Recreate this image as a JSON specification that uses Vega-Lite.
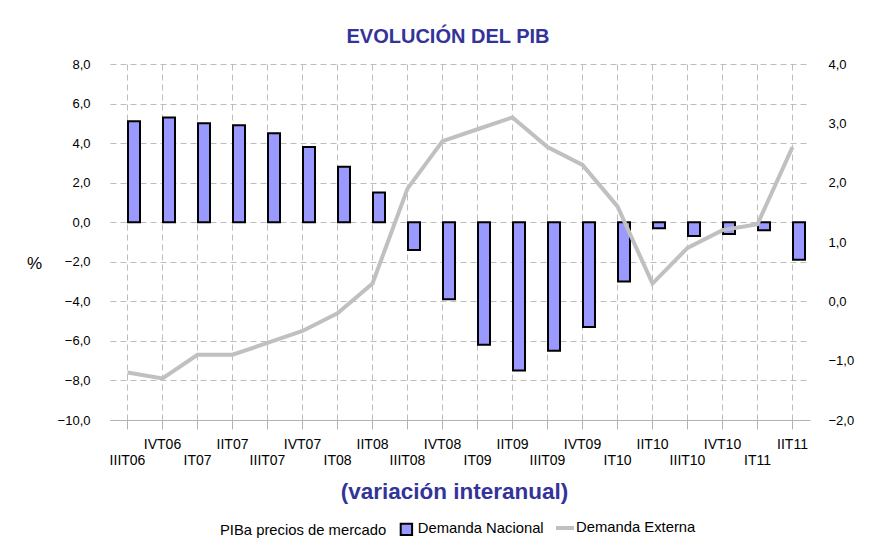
{
  "$schema": "https://vega.github.io/schema/vega-lite/v6.json",
  "autosize": "none",
  "width": 700,
  "height": 356,
  "padding": {"left": 110, "top": 64, "right": 67, "bottom": 129},
  "background": "white",
  "title": {
    "text": "EVOLUCIÓN DEL PIB",
    "fontSize": 20,
    "fontWeight": "bold",
    "color": "#333399",
    "anchor": "middle",
    "dx": -12,
    "offset": 11
  },
  "data": {
    "values": [
      {"t": "IIIT06", "dn": 5.1, "de": -1.2},
      {"t": "IVT06", "dn": 5.3, "de": -1.3},
      {"t": "IT07", "dn": 5.0, "de": -0.9},
      {"t": "IIT07", "dn": 4.9, "de": -0.9},
      {"t": "IIIT07", "dn": 4.5, "de": -0.7},
      {"t": "IVT07", "dn": 3.8, "de": -0.5},
      {"t": "IT08", "dn": 2.8, "de": -0.2},
      {"t": "IIT08", "dn": 1.5, "de": 0.3},
      {"t": "IIIT08", "dn": -1.4, "de": 1.9},
      {"t": "IVT08", "dn": -3.9, "de": 2.7},
      {"t": "IT09", "dn": -6.2, "de": 2.9},
      {"t": "IIT09", "dn": -7.5, "de": 3.1},
      {"t": "IIIT09", "dn": -6.5, "de": 2.6},
      {"t": "IVT09", "dn": -5.3, "de": 2.3},
      {"t": "IT10", "dn": -3.0, "de": 1.6},
      {"t": "IIT10", "dn": -0.3, "de": 0.3},
      {"t": "IIIT10", "dn": -0.7, "de": 0.9},
      {"t": "IVT10", "dn": -0.6, "de": 1.2},
      {"t": "IT11", "dn": -0.4, "de": 1.3},
      {"t": "IIT11", "dn": -1.9, "de": 2.6}
    ]
  },
  "encoding": {
    "x": {
      "field": "t",
      "type": "nominal",
      "sort": null,
      "scale": {"paddingInner": 0, "paddingOuter": 0},
      "axis": {
        "bandPosition": 0.5,
        "grid": true,
        "gridDash": [6, 4],
        "gridColor": "#bdbdbd",
        "domain": true,
        "domainColor": "#b3b3b3",
        "ticks": true,
        "tickColor": "#b3b3b3",
        "tickSize": 9,
        "labelAngle": 0,
        "labelPadding": 8,
        "labelFontSize": 14,
        "labelColor": "#000000",
        "labelLineHeight": 16,
        "labelOverlap": false,
        "labelExpr": "test(regexp('^(IVT|IIT)'), datum.value) ? datum.label : ['', datum.label]",
        "title": "(variación interanual)",
        "titleFontSize": 22.5,
        "titleFontWeight": "bold",
        "titleColor": "#333399",
        "titleX": 344,
        "titleY": 71,
        "titleAlign": "center",
        "titleBaseline": "middle"
      }
    }
  },
  "layer": [
    {
      "mark": {"type": "bar", "width": 12, "xOffset": 6.5, "stroke": "#000000", "strokeWidth": 2},
      "encoding": {
        "y": {
          "field": "dn",
          "type": "quantitative",
          "scale": {"domain": [-10, 8], "nice": false},
          "axis": {
            "orient": "left",
            "values": [-10, -8, -6, -4, -2, 0, 2, 4, 6, 8],
            "labelExpr": "replace(format(datum.value, '.1f'), '.', ',')",
            "grid": true,
            "gridDash": [6, 4],
            "gridColor": "#bdbdbd",
            "domain": false,
            "ticks": false,
            "labelPadding": 20,
            "labelFontSize": 13,
            "labelColor": "#000000",
            "title": "%",
            "titleAngle": 0,
            "titleX": -76,
            "titleY": 199,
            "titleAlign": "center",
            "titleBaseline": "middle",
            "titleFontSize": 17,
            "titleFontWeight": "normal",
            "titleColor": "#000000"
          }
        },
        "color": {
          "datum": "Demanda Nacional",
          "type": "nominal",
          "scale": {"domain": ["Demanda Nacional"], "range": ["#9999ff"]},
          "legend": {
            "title": "PIBa precios de mercado",
            "titleOrient": "left",
            "titleFontSize": 14.8,
            "titleFontWeight": "normal",
            "titleColor": "#000000",
            "titleLimit": 400,
            "titlePadding": 12,
            "titleAnchor": "middle",
            "titleBaseline": "middle",
            "orient": "none",
            "direction": "horizontal",
            "legendX": 110,
            "legendY": 458,
            "labelFontSize": 14.8,
            "labelLimit": 300,
            "labelColor": "#000000",
            "labelOffset": 4,
            "symbolType": "square",
            "symbolSize": 130,
            "symbolStrokeWidth": 2,
            "symbolStrokeColor": "#000000",
            "symbolFillColor": "#9999ff",
            "symbolOpacity": 1
          }
        }
      }
    },
    {
      "mark": {"type": "line", "strokeWidth": 4},
      "encoding": {
        "y": {
          "field": "de",
          "type": "quantitative",
          "scale": {"domain": [-2, 4], "nice": false},
          "axis": {
            "orient": "right",
            "values": [-2, -1, 0, 1, 2, 3, 4],
            "labelExpr": "replace(format(datum.value, '.1f'), '.', ',')",
            "grid": false,
            "domain": false,
            "ticks": false,
            "labelPadding": 18,
            "labelFontSize": 13,
            "labelColor": "#000000",
            "title": null
          }
        },
        "stroke": {
          "datum": "Demanda Externa",
          "type": "nominal",
          "scale": {"domain": ["Demanda Externa"], "range": ["#c0c0c0"]},
          "legend": {
            "title": null,
            "orient": "none",
            "direction": "horizontal",
            "legendX": 444,
            "legendY": 453,
            "labelFontSize": 14.8,
            "labelLimit": 300,
            "labelColor": "#000000",
            "labelOffset": 0,
            "symbolType": "stroke",
            "symbolSize": 324,
            "symbolStrokeWidth": 4,
            "symbolOpacity": 1
          }
        }
      }
    }
  ],
  "resolve": {"scale": {"y": "independent"}},
  "config": {
    "font": "Liberation Sans",
    "view": {"stroke": null}
  }
}
